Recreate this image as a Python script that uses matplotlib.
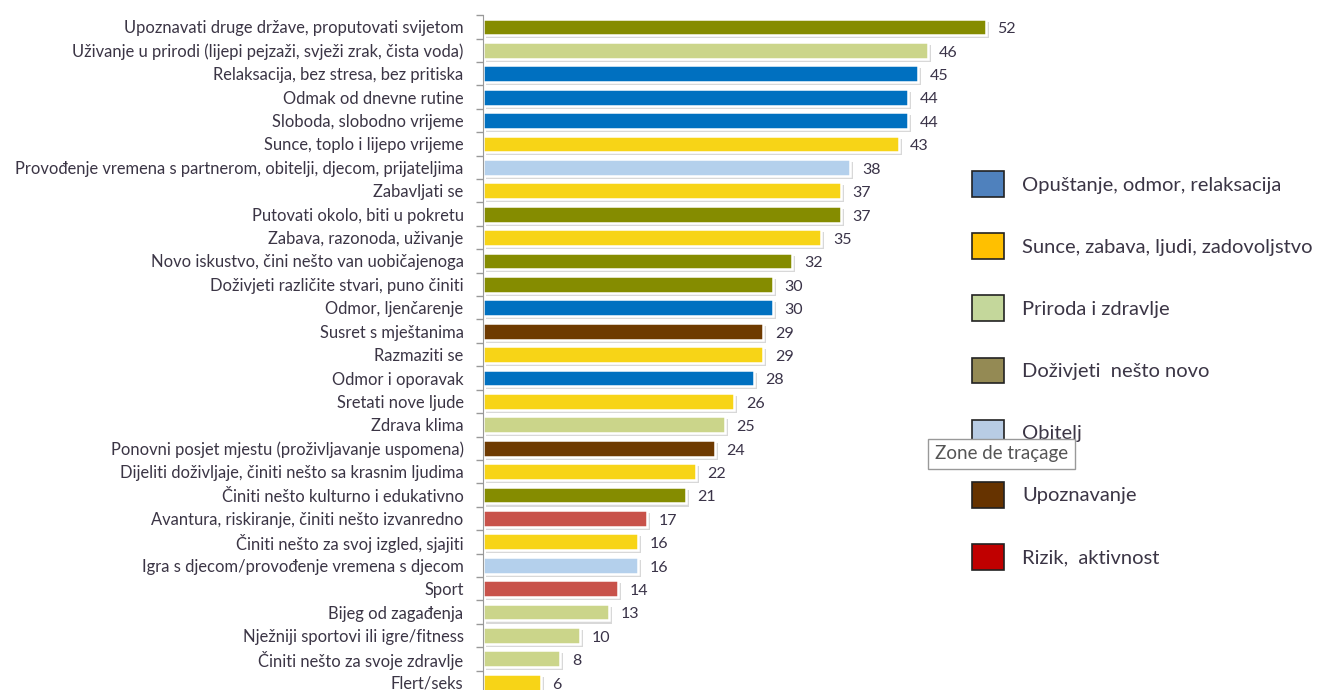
import matplotlib
matplotlib.use("Agg")
import matplotlib.pyplot as plt
from matplotlib.patches import Patch

categories = [
    "Upoznavati druge države, proputovati svijetom",
    "Uživanje u prirodi (lijepi pejzaži, svježi zrak, čista voda)",
    "Relaksacija, bez stresa, bez pritiska",
    "Odmak od dnevne rutine",
    "Sloboda, slobodno vrijeme",
    "Sunce, toplo i lijepo vrijeme",
    "Provođenje vremena s partnerom, obitelji, djecom, prijateljima",
    "Zabavljati se",
    "Putovati okolo, biti u pokretu",
    "Zabava, razonoda, uživanje",
    "Novo iskustvo, čini nešto van uobičajenoga",
    "Doživjeti različite stvari, puno činiti",
    "Odmor, ljenčarenje",
    "Susret s mještanima",
    "Razmaziti se",
    "Odmor i oporavak",
    "Sretati nove ljude",
    "Zdrava klima",
    "Ponovni posjet mjestu (proživljavanje uspomena)",
    "Dijeliti doživljaje, činiti nešto sa krasnim ljudima",
    "Činiti nešto kulturno i edukativno",
    "Avantura, riskiranje, činiti nešto izvanredno",
    "Činiti nešto za svoj izgled, sjajiti",
    "Igra s djecom/provođenje vremena s djecom",
    "Sport",
    "Bijeg od zagađenja",
    "Nježniji sportovi ili igre/fitness",
    "Činiti nešto za svoje zdravlje",
    "Flert/seks",
]
values = [52, 46, 45, 44, 44, 43, 38, 37, 37, 35, 32, 30, 30, 29, 29, 28, 26, 25,
          24, 22, 21, 17, 16, 16, 14, 13, 10, 8, 6]
groups = ["novo", "priroda", "odmor", "odmor", "odmor", "sunce", "obitelj", "sunce",
          "novo", "sunce", "novo", "novo", "odmor", "upozn", "sunce", "odmor", "sunce",
          "priroda", "upozn", "sunce", "novo", "rizik", "sunce", "obitelj", "rizik",
          "priroda", "priroda", "priroda", "sunce"]

bar_colors = {
    "odmor": "#0070C0", "sunce": "#F7D417", "priroda": "#CBD58A", "novo": "#858C00",
    "obitelj": "#B4D0EC", "upozn": "#6E3A00", "rizik": "#C8524A",
}
legend_labels = ["Opuštanje, odmor, relaksacija", "Sunce, zabava, ljudi, zadovoljstvo",
                 "Priroda i zdravlje", "Doživjeti  nešto novo", "Obitelj",
                 "Upoznavanje", "Rizik,  aktivnost"]
legend_colors = ["#4F81BD", "#FFC000", "#C4D79B", "#948A54", "#B8CCE4", "#663300", "#C00000"]

W, H = 1322, 690
fig = plt.figure(figsize=(W / 100, H / 100), dpi=100)
ax = fig.add_axes([483 / W, 0, 580 / W, 1 - 15 / H])

ypos = list(range(len(categories)))
cols = [bar_colors[g] for g in groups]
# shadow
ax.barh([y + 0.13 for y in ypos], values, left=0.3, height=0.72, color="#c8c8c8",
        alpha=0.7, zorder=1)
ax.barh(ypos, values, height=0.72, color=cols, edgecolor="white", linewidth=1.8, zorder=2)

for y, v in zip(ypos, values):
    ax.text(v + 1.2, y + 0.1, str(v), va="center", ha="left", fontsize=11.5,
            color="#3a3348", family="Lato")

ax.set_xlim(0, 60)
ax.set_ylim(28.33, -0.51)
ax.set_yticks(ypos)
ax.set_yticklabels(categories, fontsize=11.9, color="#3b3545", family="Lato")
ax.set_yticks([y + 0.5 for y in ypos[:-1]] + [-0.5], minor=True)
ax.tick_params(axis="y", which="major", length=0, pad=14)
ax.tick_params(axis="y", which="minor", length=5, color="#999999", width=1)
ax.set_xticks([])
for s in ["top", "right", "bottom"]:
    ax.spines[s].set_visible(False)
ax.spines["left"].set_color("#999999")

handles = [Patch(facecolor=c, edgecolor="#222222", linewidth=1.2) for c in legend_colors]
leg = fig.legend(handles, legend_labels, loc="upper left",
                 bbox_to_anchor=(954 / W, 1 - 153 / H),
                 frameon=False, handlelength=1.6, handleheight=1.6,
                 labelspacing=1.8, handletextpad=0.9,
                 prop={"family": "Lato", "size": 14.5}, labelcolor="#3b3545")
leg.set_zorder(3)

t = fig.text(935 / W, 1 - 454 / H, "Zone de traçage", fontsize=13.5, color="#555555",
             family="Lato", va="center", ha="left", zorder=10,
             bbox=dict(boxstyle="square,pad=0.35", facecolor="white", edgecolor="#999999",
                       linewidth=1))

fig.savefig("out.png", dpi=100)
